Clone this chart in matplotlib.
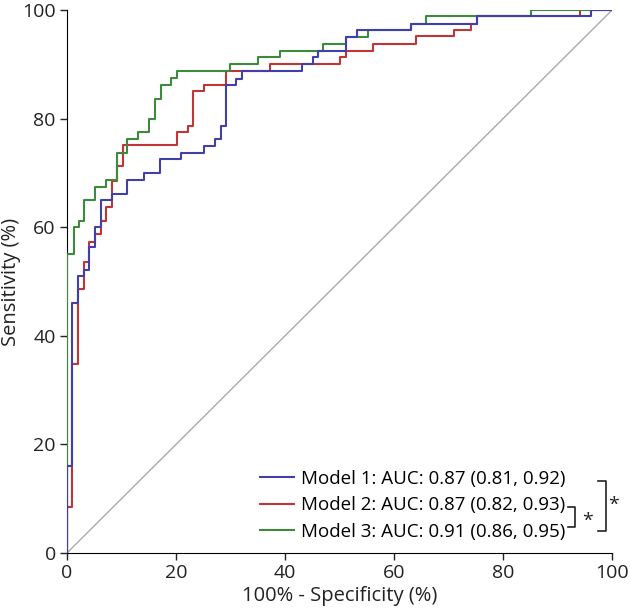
import matplotlib
matplotlib.use("Agg")
import matplotlib.pyplot as plt

plt.rcParams['font.family'] = ['Open Sans', 'DejaVu Sans']

# ROC step corners: at each fpr the curve rises to tpr
fpr1 = [0, 0, 1.0, 2.1, 3.1, 4.1, 5.1, 6.2, 8.2, 11.1, 14.1, 17.1, 21.0, 25.1, 27.2, 28.2,
        29.2, 31.1, 32.2, 43.1, 45.2, 46.1, 51.2, 53.2, 63.1, 75.2, 96.1, 100]
tpr1 = [0, 16.1, 46.1, 51.1, 52.2, 56.3, 60.0, 65.0, 66.1, 68.7, 70.0, 72.6, 73.7, 75.0, 76.2, 78.6,
        86.2, 87.4, 88.8, 90.0, 91.3, 92.5, 95.0, 96.3, 97.5, 98.9, 100, 100]

fpr2 = [0, 0, 1.0, 2.1, 3.1, 4.1, 5.1, 6.2, 7.1, 8.2, 9.2, 10.2, 20.1, 22.2, 23.2, 25.1,
        29.2, 37.2, 50.1, 51.2, 56.1, 64.0, 71.1, 74.2, 75.2, 94.1, 100]
tpr2 = [0, 8.5, 34.8, 48.7, 53.6, 57.3, 58.8, 61.1, 63.7, 68.6, 71.3, 75.1, 77.5, 78.6, 85.1, 86.2,
        88.8, 90.0, 91.3, 92.5, 93.7, 95.2, 96.3, 97.5, 98.9, 100, 100]

fpr3 = [0, 0, 1.2, 2.2, 3.1, 5.1, 7.1, 9.1, 11.1, 13.1, 15.1, 16.2, 17.2, 19.1, 20.1,
        30.0, 35.1, 39.1, 47.0, 51.2, 55.2, 63.1, 65.9, 85.2, 100]
tpr3 = [0, 55.0, 60.0, 61.2, 65.0, 67.5, 68.7, 73.7, 76.2, 77.5, 80.0, 83.7, 86.3, 87.5, 88.8,
        90.0, 91.3, 92.5, 93.7, 95.0, 96.3, 97.5, 98.9, 100, 100]

labels = ["Model 1: AUC: 0.87 (0.81, 0.92)",
          "Model 2: AUC: 0.87 (0.82, 0.93)",
          "Model 3: AUC: 0.91 (0.86, 0.95)"]
colors = ["#4040a8", "#c03535", "#3d8a3d"]
ticks = [0, 20, 40, 60, 80, 100]

fig = plt.figure(figsize=(6.3, 6.12), dpi=100)
ax = fig.add_axes([0.1063, 0.0964, 0.865, 0.887])

ax.plot([0, 100], [0, 100], color="#aaaaaa", lw=1.0, zorder=1)
l2, = ax.plot(fpr2, tpr2, drawstyle="steps-post", color=colors[1], lw=1.5, zorder=2)
l3, = ax.plot(fpr3, tpr3, drawstyle="steps-post", color=colors[2], lw=1.5, zorder=3)
l1, = ax.plot(fpr1, tpr1, drawstyle="steps-post", color=colors[0], lw=1.5, zorder=4)

ax.set_xlim(0, 100)
ax.set_ylim(0, 100)
ax.set_xticks(ticks)
ax.set_yticks(ticks)
ax.spines['top'].set_visible(False)
ax.spines['right'].set_visible(False)
ax.tick_params(direction='out', length=5, width=1, labelsize=14, colors='#222222', pad=3)
ax.set_xlabel("100% - Specificity (%)", fontsize=14.5, color='#222222', labelpad=3)
ax.set_ylabel("Sensitivity (%)", fontsize=14.5, color='#222222')
ax.yaxis.set_label_coords(-0.084, 0.5)

ax.legend([l1, l2, l3], labels, loc='lower right', bbox_to_anchor=(0.928, 0.009),
          frameon=False, fontsize=13.5, handlelength=1.8, handletextpad=0.35,
          labelspacing=0.45, borderaxespad=0.0)

# significance brackets
kw = dict(color='#222222', lw=1.2, clip_on=False)
ax.plot([91.9, 93.2, 93.2, 91.9], [8.5, 8.5, 4.8, 4.8], **kw)
ax.plot([97.4, 98.9, 98.9, 97.4], [13.3, 13.3, 4.1, 4.1], **kw)
ax.text(95.6, 6.0, "*", fontsize=14, ha='center', va='center', color='#222222')
ax.text(100.3, 8.8, "*", fontsize=14, ha='center', va='center', color='#222222', clip_on=False)

fig.savefig("out.png", dpi=100)
